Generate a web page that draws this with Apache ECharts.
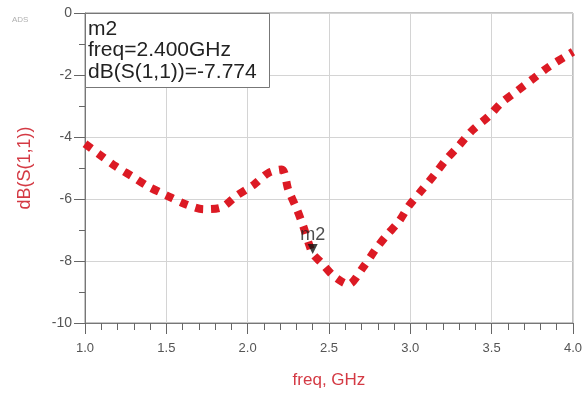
<!DOCTYPE html>
<html><head><meta charset="utf-8">
<script src="https://cdn.jsdelivr.net/npm/echarts@6/dist/echarts.min.js"></script>
<style>html,body{margin:0;padding:0;background:#fff}#c{width:585px;height:394px}</style>
</head><body><div id="c"></div>
<script>
const freq = [1.00, 1.09, 1.19, 1.29, 1.39, 1.50, 1.61, 1.73, 1.84, 1.93, 2.04, 2.13, 2.21, 2.25, 2.30, 2.34, 2.38, 2.40, 2.45, 2.53, 2.62, 2.71, 2.79, 2.85, 2.93, 2.99, 3.07, 3.15, 3.22, 3.30, 3.38, 3.48, 3.56, 3.66, 3.76, 3.85, 3.96, 4.00];
const s11 = [-4.22, -4.57, -4.95, -5.27, -5.60, -5.88, -6.15, -6.33, -6.27, -5.90, -5.53, -5.15, -5.05, -5.70, -6.30, -6.85, -7.50, -7.77, -8.04, -8.49, -8.75, -8.20, -7.60, -7.20, -6.72, -6.23, -5.72, -5.21, -4.73, -4.27, -3.79, -3.34, -2.90, -2.50, -2.10, -1.74, -1.38, -1.25];
const markerName = 'm2';
const markerFreq = 2.400;
const markerDB = -7.774;
const xTicks = [1.0, 1.5, 2.0, 2.5, 3.0, 3.5, 4.0];
const yTicks = [0, -2, -4, -6, -8, -10];

const chart = echarts.init(document.getElementById('c'), null, {renderer: 'canvas'});
const red = '#dc1a24';
const nameRed = '#d43a44';
const font = 'Liberation Sans, Arial, Helvetica';
chart.setOption({
  animation: false,
  grid: {left: 85, right: 8, top: 13, bottom: 70, show: true, borderColor: '#8a8a8a', borderWidth: 1, backgroundColor: 'transparent'},
  xAxis: {
    type: 'value', min: 1.0, max: 4.0, interval: 0.5,
    name: 'freq, GHz', nameLocation: 'middle', nameGap: 49,
    nameTextStyle: {color: nameRed, fontSize: 17, fontFamily: font},
    axisLine: {show: true, onZero: false, lineStyle: {color: '#777', width: 1}},
    axisTick: {show: true, inside: false, length: 11, lineStyle: {color: '#666'}},
    minorTick: {show: true, splitNumber: 5, length: 7, lineStyle: {color: '#666'}},
    splitLine: {show: true, lineStyle: {color: '#d4d4d4', width: 1}},
    axisLabel: {color: '#555', fontSize: 13, margin: 19, fontFamily: font,
      formatter: v => { const t = xTicks.find(k => Math.abs(k - v) < 1e-6); return t === undefined ? '' : t.toFixed(1); }}
  },
  yAxis: {
    type: 'value', min: -10, max: 0, interval: 2,
    name: 'dB(S(1,1))', nameLocation: 'middle', nameGap: 51, nameRotate: 90,
    nameTextStyle: {color: nameRed, fontSize: 18, fontFamily: font},
    axisLine: {show: true, onZero: false, lineStyle: {color: '#777', width: 1}},
    axisTick: {show: true, inside: false, length: 11, lineStyle: {color: '#666'}},
    minorTick: {show: true, splitNumber: 2, length: 6, lineStyle: {color: '#666'}},
    splitLine: {show: true, lineStyle: {color: '#d4d4d4', width: 1}},
    axisLabel: {color: '#555', fontSize: 14, margin: 13, fontFamily: font,
      formatter: v => { const t = yTicks.find(k => Math.abs(k - v) < 1e-6); return t === undefined ? '' : String(t); }}
  },
  series: [
    {
      type: 'line', data: freq.map((f, i) => [f, s11[i]]),
      showSymbol: false, smooth: 0.3,
      lineStyle: {color: red, width: 8, type: [8, 8], cap: 'butt'},
      z: 2
    },
    {
      type: 'scatter', data: [[markerFreq, markerDB]],
      symbol: 'triangle', symbolRotate: 180, symbolSize: 10, symbolOffset: [0, -5],
      itemStyle: {color: '#111'},
      label: {show: true, formatter: markerName, position: 'top', distance: 0, color: '#222', fontSize: 18, fontFamily: font},
      z: 5
    }
  ],
  graphic: [
    {type: 'rect', shape: {x: 85.5, y: 13.5, width: 184, height: 74}, style: {fill: '#fff', stroke: '#777', lineWidth: 1}, z: 10},
    {type: 'text', x: 88, y: 29.5, style: {text: markerName, fill: '#222', font: '21px ' + font, verticalAlign: 'middle'}, z: 11},
    {type: 'text', x: 88, y: 50.5, style: {text: 'freq=' + markerFreq.toFixed(3) + 'GHz', fill: '#222', font: '21px ' + font, verticalAlign: 'middle'}, z: 11},
    {type: 'text', x: 88, y: 72, style: {text: 'dB(S(1,1))=' + markerDB.toFixed(3), fill: '#222', font: '21px ' + font, verticalAlign: 'middle'}, z: 11},
    {type: 'text', x: 12, y: 20, style: {text: 'ADS', fill: '#b0b0b0', font: '8px ' + font, verticalAlign: 'middle'}, z: 11}
  ]
});
</script></body></html>
